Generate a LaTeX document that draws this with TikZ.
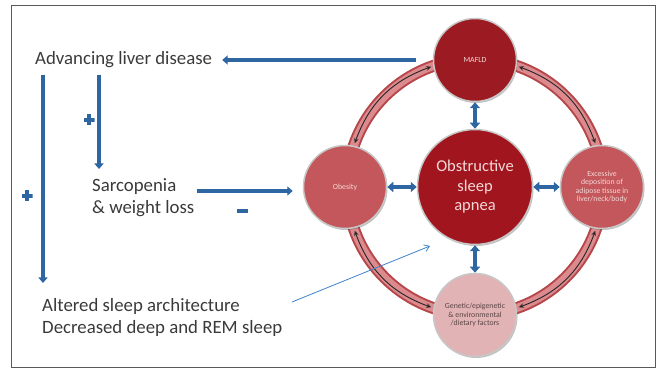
\documentclass[tikz,border=0pt]{standalone}
\usepackage{fontspec}
\setmainfont{Carlito}
\usetikzlibrary{arrows.meta,calc,shadows}
\definecolor{bl}{HTML}{2E66A2}
\definecolor{thinbl}{HTML}{3C82CC}
\definecolor{txt}{HTML}{3A3A3A}
\definecolor{dred}{HTML}{9C1B22}
\definecolor{osared}{HTML}{A1161E}
\definecolor{midred}{HTML}{C4575B}
\definecolor{lpink}{HTML}{E2B3B5}
\definecolor{band}{HTML}{DC8A8D}
\definecolor{bandedge}{HTML}{B5474B}
\definecolor{lighttext}{HTML}{F4D8D8}
\definecolor{darktext}{HTML}{5A4545}
\begin{document}
\begin{tikzpicture}[x=1pt,y=-1pt,
  frame/.style={draw=black!65, line width=1pt},
  lefttext/.style={inner sep=0pt, anchor=west, align=left, text=txt,
    font=\fontsize{18.8}{22}\selectfont},
  bubble/.style={circle, draw=black!22, line width=1.5pt, minimum size=83pt,
    inner sep=0pt, align=center, text=lighttext,
    font=\fontsize{7.8}{8.2}\selectfont,
    drop shadow={shadow xshift=1pt, shadow yshift=-1.5pt, opacity=0.35, fill=black!70}},
  ringarrow/.style={draw=black!85, line width=0.9pt,
    {Stealth[length=5pt,width=4.5pt]}-{Stealth[length=5pt,width=4.5pt]}},
  bdbl/.style={draw=bl, line width=3.2pt,
    {Triangle[width=10pt,length=6pt]}-{Triangle[width=10pt,length=6pt]}},
  barrow/.style={draw=bl, line width=3.8pt, -{Triangle[width=9pt,length=5.5pt]}},
  thinarrow/.style={draw=thinbl, line width=0.8pt, -{Straight Barb[length=5pt,width=7pt]}},
  plussign/.style={minimum size=11pt, inner sep=0pt,
    path picture={
      \fill[bl] ([xshift=-5.5pt,yshift=-2pt]path picture bounding box.center)
        rectangle ([xshift=5.5pt,yshift=2pt]path picture bounding box.center);
      \fill[bl] ([xshift=-2pt,yshift=-5.5pt]path picture bounding box.center)
        rectangle ([xshift=2pt,yshift=5.5pt]path picture bounding box.center);}}
]
\useasboundingbox (0,0) rectangle (657,371);
\draw[frame] (11,6) rectangle (655,368);

% ring band
\coordinate (c) at (475,187);
\draw[draw=bandedge, line width=12pt] (c) circle[radius=128];
\draw[draw=band, line width=8pt] (c) circle[radius=128];

% black double arrows along ring
\foreach \a/\b/\n in {200/250/1, 290/340/2, 20/70/3, 110/160/4} {
  \coordinate (s\n) at ($(c)+(\a:128)$);
  \coordinate (e\n) at ($(c)+(\b:128)$);
  \draw[ringarrow] (s\n) to[bend left=25] (e\n);
}

% circles
\node[bubble, fill=dred] (mafld) at (475,60) {MAFLD};
\node[bubble, fill=midred] (obesity) at (345,187) {Obesity};
\node[bubble, fill=midred] (excess) at (602,187) {Excessive\\deposition of\\adipose tissue in\\liver/neck/body};
\node[bubble, fill=lpink, text=darktext] (genetic) at (475,315) {Genetic/epigenetic\\\&\ environmental\\/dietary factors};
\node[bubble, fill=osared, minimum size=115pt, font=\fontsize{16.5}{19.5}\selectfont] (osa) at (475,187) {Obstructive\\sleep\\apnea};

% blue double arrows
\draw[bdbl] (osa) -- (mafld);
\draw[bdbl] (osa) -- (obesity);
\draw[bdbl] (osa) -- (excess);
\draw[bdbl] (osa) -- (genetic);

% left texts
\node[lefttext] (adv) at (35,60) {Advancing liver disease};
\node[lefttext] (sarc) at (92,198) {Sarcopenia\\\&\ weight loss};
\node[lefttext] (alt) at (42,317) {Altered sleep architecture\\Decreased deep and REM sleep};

% blue arrows on the left
\draw[barrow] ([xshift=-17pt]mafld.west) -- ([xshift=10pt]adv.east);
\coordinate (v1a) at (43,75);
\coordinate (v1b) at (43,283);
\coordinate (v2a) at (99,75);
\coordinate (v2b) at (99,169);
\coordinate (ha) at (197,191);
\draw[barrow] (v1a) -- (v1b);
\draw[barrow] (v2a) -- (v2b);
\draw[barrow, shorten >=10pt] (ha) -- (ha -| obesity.west);

% signs
\node[plussign] (plus1) at (89,120) {};
\node[plussign] (plus2) at (27,196) {};
\node[fill=bl, inner sep=0pt, minimum width=11pt, minimum height=3.5pt] (minus) at (242,211) {};

% thin arrow
\coordinate (ta) at (292,302);
\coordinate (tb) at (430,246);
\draw[thinarrow] (ta) -- (tb);
\end{tikzpicture}
\end{document}
